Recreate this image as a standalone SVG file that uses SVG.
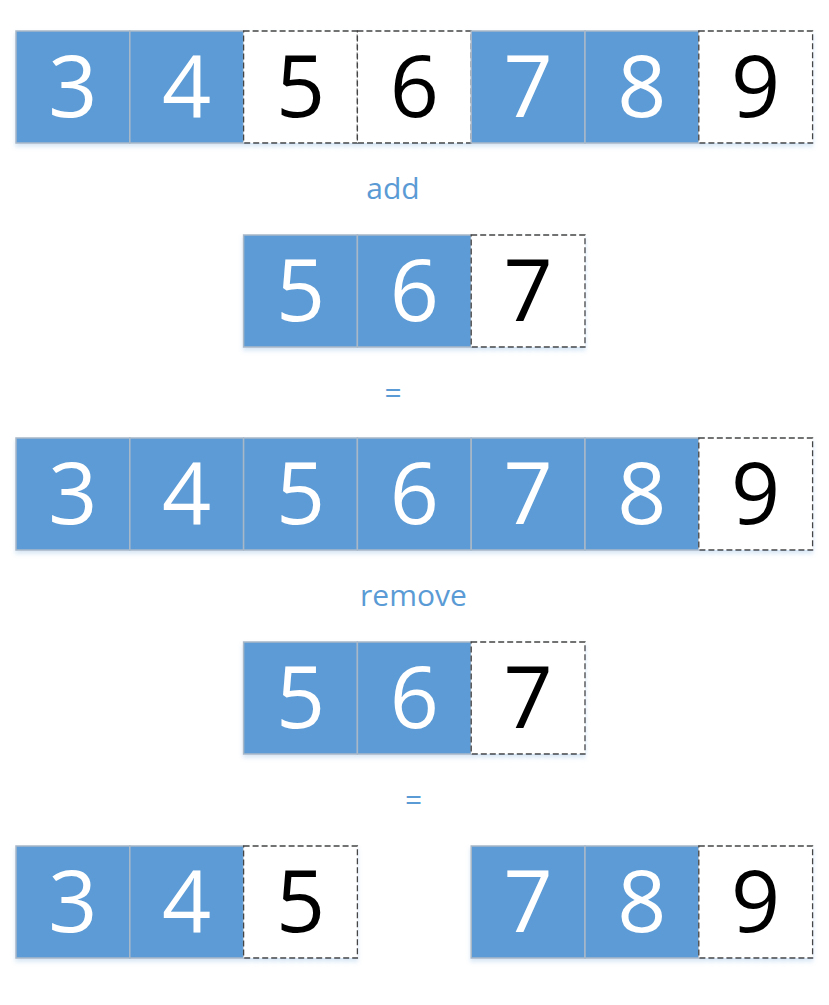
<svg xmlns="http://www.w3.org/2000/svg" width="829" height="1005" viewBox="0 0 829 1005">
<defs>
<filter id="sh" x="-5%" y="-10%" width="110%" height="130%">
<feDropShadow dx="0" dy="3" stdDeviation="2" flood-color="#5B9BD5" flood-opacity="0.25"/>
</filter>
</defs>
<style>
.b{fill:#5B9BD5;stroke:#A9B8C8;stroke-width:1.5}
.w{fill:#FFFFFF;stroke:#444444;stroke-width:1.3;stroke-dasharray:6 3}
.tb{font-family:"Open Sans","Noto Sans",sans-serif;font-size:86px;fill:#FFFFFF;text-anchor:middle}
.tw{font-family:"Open Sans","Noto Sans",sans-serif;font-size:86px;fill:#000000;text-anchor:middle}
.lab{font-family:"Open Sans","Noto Sans",sans-serif;font-size:30px;fill:#5B9BD5;text-anchor:middle}
</style>
<rect width="829" height="1005" fill="#FFFFFF"/>
<g id="row1" filter="url(#sh)">
<g id="r1c1"><rect class="b" x="16" y="31" width="113.8" height="112"/><text class="tb" x="72.9" y="117">3</text></g>
<g id="r1c2"><rect class="b" x="129.8" y="31" width="113.8" height="112"/><text class="tb" x="186.7" y="117">4</text></g>
<g id="r1c3"><rect class="w" x="243.6" y="31" width="113.8" height="112"/><text class="tw" x="300.5" y="117">5</text></g>
<g id="r1c4"><rect class="w" x="357.4" y="31" width="113.8" height="112"/><text class="tw" x="414.3" y="117">6</text></g>
<g id="r1c5"><rect class="b" x="471.2" y="31" width="113.8" height="112"/><text class="tb" x="528.1" y="117">7</text></g>
<g id="r1c6"><rect class="b" x="585" y="31" width="113.8" height="112"/><text class="tb" x="641.9" y="117">8</text></g>
<g id="r1c7"><rect class="w" x="698.8" y="31" width="113.8" height="112"/><text class="tw" x="755.7" y="117">9</text></g>
</g>
<text id="lab-add" class="lab" x="393" y="199">add</text>
<g id="row2" filter="url(#sh)">
<g id="r2c1"><rect class="b" x="243.6" y="235" width="113.8" height="112"/><text class="tb" x="300.5" y="321">5</text></g>
<g id="r2c2"><rect class="b" x="357.4" y="235" width="113.8" height="112"/><text class="tb" x="414.3" y="321">6</text></g>
<g id="r2c3"><rect class="w" x="471.2" y="235" width="113.8" height="112"/><text class="tw" x="528.1" y="321">7</text></g>
</g>
<text id="lab-eq1" class="lab" x="393" y="403">=</text>
<g id="row3" filter="url(#sh)">
<g id="r3c1"><rect class="b" x="16" y="438" width="113.8" height="112"/><text class="tb" x="72.9" y="524">3</text></g>
<g id="r3c2"><rect class="b" x="129.8" y="438" width="113.8" height="112"/><text class="tb" x="186.7" y="524">4</text></g>
<g id="r3c3"><rect class="b" x="243.6" y="438" width="113.8" height="112"/><text class="tb" x="300.5" y="524">5</text></g>
<g id="r3c4"><rect class="b" x="357.4" y="438" width="113.8" height="112"/><text class="tb" x="414.3" y="524">6</text></g>
<g id="r3c5"><rect class="b" x="471.2" y="438" width="113.8" height="112"/><text class="tb" x="528.1" y="524">7</text></g>
<g id="r3c6"><rect class="b" x="585" y="438" width="113.8" height="112"/><text class="tb" x="641.9" y="524">8</text></g>
<g id="r3c7"><rect class="w" x="698.8" y="438" width="113.8" height="112"/><text class="tw" x="755.7" y="524">9</text></g>
</g>
<text id="lab-remove" class="lab" x="413.5" y="606">remove</text>
<g id="row4" filter="url(#sh)">
<g id="r4c1"><rect class="b" x="243.6" y="642" width="113.8" height="112"/><text class="tb" x="300.5" y="728">5</text></g>
<g id="r4c2"><rect class="b" x="357.4" y="642" width="113.8" height="112"/><text class="tb" x="414.3" y="728">6</text></g>
<g id="r4c3"><rect class="w" x="471.2" y="642" width="113.8" height="112"/><text class="tw" x="528.1" y="728">7</text></g>
</g>
<text id="lab-eq2" class="lab" x="413.5" y="810">=</text>
<g id="row5" filter="url(#sh)">
<g id="r5c1"><rect class="b" x="16" y="846" width="113.8" height="112"/><text class="tb" x="72.9" y="932">3</text></g>
<g id="r5c2"><rect class="b" x="129.8" y="846" width="113.8" height="112"/><text class="tb" x="186.7" y="932">4</text></g>
<g id="r5c3"><rect class="w" x="243.6" y="846" width="113.8" height="112"/><text class="tw" x="300.5" y="932">5</text></g>
<g id="r5c5"><rect class="b" x="471.2" y="846" width="113.8" height="112"/><text class="tb" x="528.1" y="932">7</text></g>
<g id="r5c6"><rect class="b" x="585" y="846" width="113.8" height="112"/><text class="tb" x="641.9" y="932">8</text></g>
<g id="r5c7"><rect class="w" x="698.8" y="846" width="113.8" height="112"/><text class="tw" x="755.7" y="932">9</text></g>
</g>
<g id="connectors"/>
</svg>
